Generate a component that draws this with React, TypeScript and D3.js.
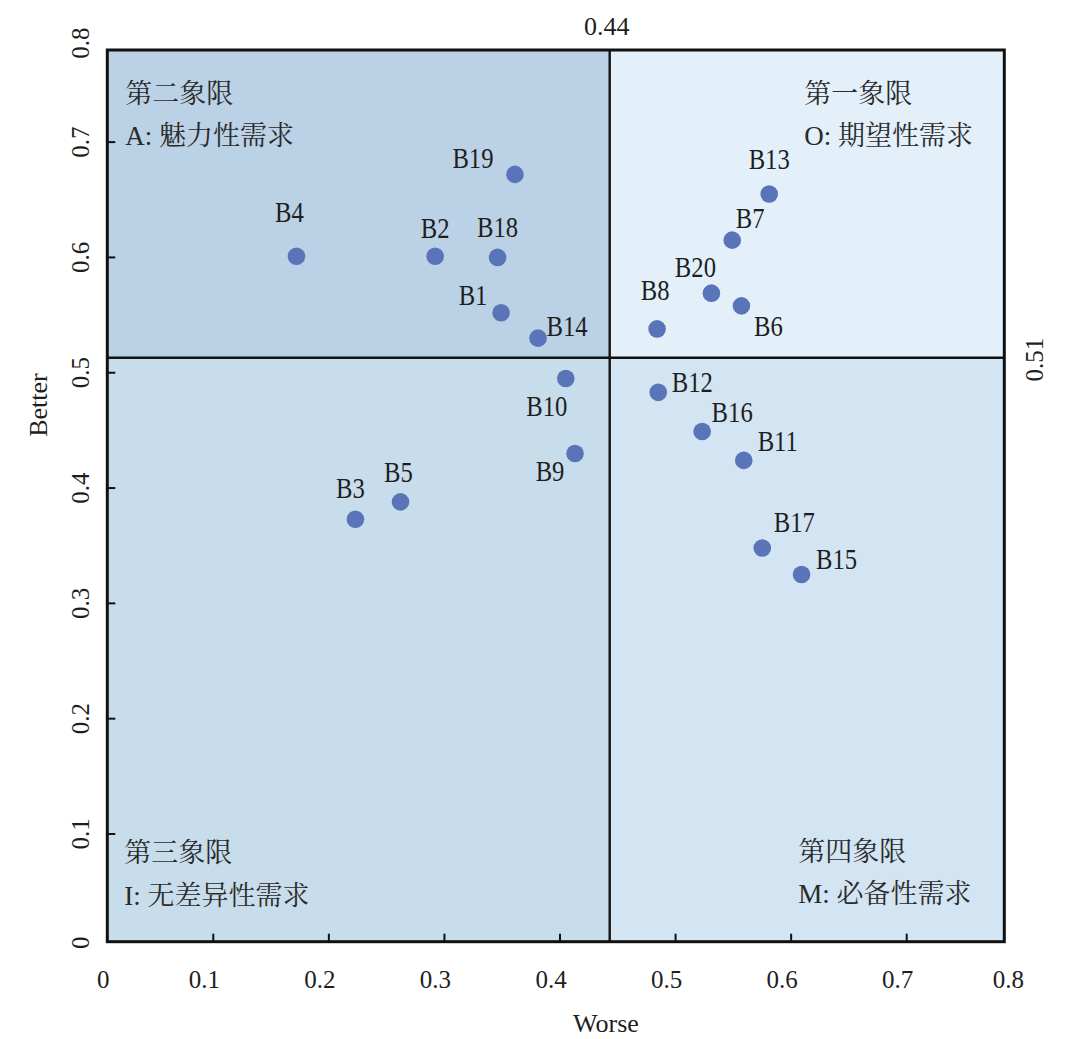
import React from 'react';
import * as d3 from 'd3';

// ---------- data ----------
const itemNames = ['B1', 'B2', 'B3', 'B4', 'B5', 'B6', 'B7', 'B8', 'B9', 'B10',
  'B11', 'B12', 'B13', 'B14', 'B15', 'B16', 'B17', 'B18', 'B19', 'B20'];
const worseValues = [0.349, 0.292, 0.223, 0.172, 0.262, 0.557, 0.549, 0.484, 0.413, 0.405,
  0.559, 0.485, 0.581, 0.381, 0.609, 0.523, 0.575, 0.346, 0.361, 0.531];
const betterValues = [0.552, 0.601, 0.373, 0.601, 0.388, 0.558, 0.615, 0.538, 0.430, 0.495,
  0.424, 0.483, 0.655, 0.530, 0.325, 0.449, 0.348, 0.600, 0.672, 0.569];
const xTickValues = [0, 0.1, 0.2, 0.3, 0.4, 0.5, 0.6, 0.7, 0.8];
const yTickValues = [0, 0.1, 0.2, 0.3, 0.4, 0.5, 0.6, 0.7, 0.8];
const worseThreshold = 0.443;
const betterThreshold = 0.513;
const quadrantTitles = ['第一象限', '第二象限', '第三象限', '第四象限'];
const quadrantKinds = ['O: 期望性需求', 'A: 魅力性需求', 'I: 无差异性需求', 'M: 必备性需求'];
const xAxisTitle = 'Worse';
const yAxisTitle = 'Better';

// ---------- layout / style ----------
const W = 1068;
const H = 1039;
const frame = { left: 107.3, right: 1004.3, top: 50, bottom: 941.7 };
const SERIF = "'Liberation Serif', 'Noto Serif CJK SC', 'Noto Sans CJK SC', serif";
const quadrantFills = ['#e3f0fa', '#bbd1e5', '#c7ddeb', '#d3e4f3'];
const pointColor = '#5a74b9';
const textColor = '#1e1e1e';

// label offsets (label glyph center relative to point center, px)
const labelOffsets: Record<string, [number, number]> = {
  B1: [-28, -18], B2: [0, -28], B3: [-5, -31], B4: [-7, -44], B5: [-2, -30],
  B6: [27, 20], B7: [18, -22], B8: [-2, -39], B9: [-25, 18], B10: [-19, 27],
  B11: [34, -19], B12: [34, -10], B13: [0, -35], B14: [29, -12], B15: [35, -16],
  B16: [30, -20], B17: [32, -26], B18: [0, -30], B19: [-42, -16], B20: [-16, -26],
};

const x = d3.scaleLinear().domain([0, 0.8]).range([97.7, 1022.3]);
const y = d3.scaleLinear().domain([0, 0.8]).range([949.3, 26.8]);
const fmt2 = d3.format('.2f');

export default function App() {
  const xd = x(worseThreshold);
  const yd = y(betterThreshold);
  const quads = [
    { x0: xd, x1: frame.right, y0: frame.top, y1: yd },
    { x0: frame.left, x1: xd, y0: frame.top, y1: yd },
    { x0: frame.left, x1: xd, y0: yd, y1: frame.bottom },
    { x0: xd, x1: frame.right, y0: yd, y1: frame.bottom },
  ];
  const quadText = [
    { tx: frame.right - 200, b1: frame.top + 53, b2: frame.top + 95 },
    { tx: frame.left + 18, b1: frame.top + 53, b2: frame.top + 95 },
    { tx: frame.left + 17, b1: frame.bottom - 80, b2: frame.bottom - 37 },
    { tx: frame.right - 206, b1: frame.bottom - 81, b2: frame.bottom - 39 },
  ];
  const innerTicksX = xTickValues.filter((v) => v > 0 && v < 0.8);
  const innerTicksY = yTickValues.filter((v) => v > 0 && v < 0.8);
  const clamp = (v: number, a: number, b: number) => Math.max(a, Math.min(b, v));

  return (
    <div style={{ position: 'absolute', left: 0, top: 0 }}>
      <svg width={W} height={H} style={{ display: 'block', background: '#fff' }} fontFamily={SERIF}>
        {quads.map((q, i) => (
          <rect key={'q' + i} x={q.x0} y={q.y0} width={q.x1 - q.x0} height={q.y1 - q.y0} fill={quadrantFills[i]} />
        ))}
        {/* dividers */}
        <line x1={xd} x2={xd} y1={frame.top} y2={frame.bottom} stroke="#111" strokeWidth={2.4} />
        <line x1={frame.left} x2={frame.right} y1={yd} y2={yd} stroke="#111" strokeWidth={2.4} />
        {/* frame */}
        <rect x={frame.left} y={frame.top} width={frame.right - frame.left} height={frame.bottom - frame.top}
          fill="none" stroke="#111" strokeWidth={3} />
        {/* ticks */}
        {innerTicksX.map((v) => (
          <line key={'tx' + v} x1={x(v)} x2={x(v)} y1={frame.bottom} y2={frame.bottom - 8} stroke="#111" strokeWidth={2} />
        ))}
        {innerTicksY.map((v) => (
          <line key={'ty' + v} x1={frame.left} x2={frame.left + 8} y1={y(v)} y2={y(v)} stroke="#111" strokeWidth={2} />
        ))}
        {/* tick labels */}
        {xTickValues.map((v) => (
          <text key={'lx' + v} x={clamp(x(v) - 9, frame.left - 4, frame.right + 4)} y={988} fontSize={25}
            textAnchor="middle" fill={textColor}>{String(v)}</text>
        ))}
        {yTickValues.map((v) => (
          <text key={'ly' + v} transform={`translate(89,${clamp(y(v), frame.top - 7, frame.bottom + 1)}) rotate(-90)`}
            fontSize={25} textAnchor="middle" fill={textColor}>{String(v)}</text>
        ))}
        {/* threshold labels */}
        <text x={xd - 3} y={35} fontSize={26} textAnchor="middle" fill={textColor}>{fmt2(worseThreshold)}</text>
        <text transform={`translate(1043,${yd + 2}) rotate(-90)`} fontSize={25} textAnchor="middle" fill={textColor}>
          {fmt2(betterThreshold)}
        </text>
        {/* axis titles */}
        <text x={606} y={1032} fontSize={26} textAnchor="middle" fill={textColor}>{xAxisTitle}</text>
        <text transform="translate(47,405) rotate(-90)" fontSize={26} textAnchor="middle" fill={textColor}>{yAxisTitle}</text>
        {/* quadrant texts */}
        {quadText.map((t, i) => (
          <g key={'qt' + i} fill="#2a2a2a" fontSize={27}>
            <text x={t.tx} y={t.b1}>{quadrantTitles[i]}</text>
            <text x={t.tx} y={t.b2} xmlSpace="preserve">{quadrantKinds[i]}</text>
          </g>
        ))}
        {/* points */}
        {itemNames.map((n, i) => (
          <circle key={'p' + n} cx={x(worseValues[i])} cy={y(betterValues[i])} r={8.8} fill={pointColor} />
        ))}
        {itemNames.map((n, i) => {
          const [dx, dy] = labelOffsets[n];
          const lx = x(worseValues[i]) + dx;
          const ly = y(betterValues[i]) + dy + 10;
          return (
            <text key={'t' + n} transform={`translate(${lx},${ly}) scale(0.85,1)`} fontSize={29}
              textAnchor="middle" fill={textColor}>{n}</text>
          );
        })}
      </svg>
    </div>
  );
}
